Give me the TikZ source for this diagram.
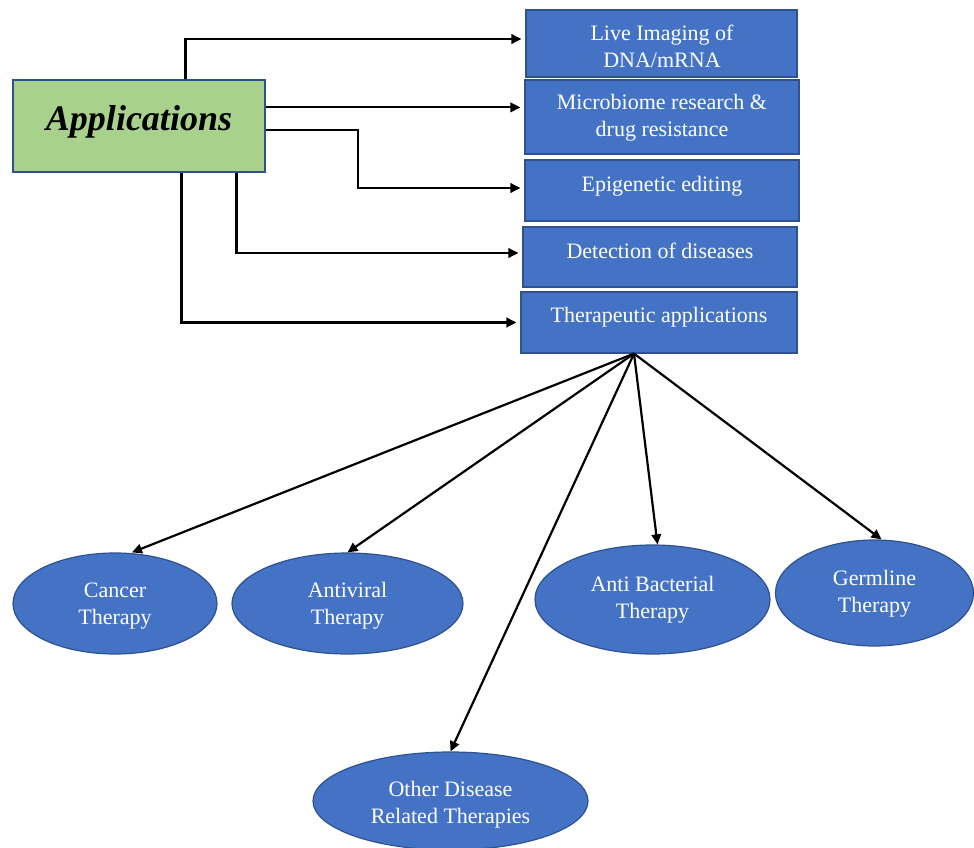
\documentclass[tikz,border=0pt]{standalone}
\usepackage{fontspec}
\setmainfont{Liberation Serif}
\usetikzlibrary{shapes.geometric,arrows.meta,calc}
\definecolor{boxblue}{HTML}{4472C4}
\definecolor{edgeblue}{HTML}{2F528F}
\definecolor{appgreen}{HTML}{A9D18E}
\begin{document}
\begin{tikzpicture}[x=1pt,y=-1pt,
  appbox/.style={draw=edgeblue, line width=1.2pt, fill=appgreen, inner sep=0pt},
  apptxt/.style={font=\fontsize{36}{40}\selectfont\bfseries\itshape, inner sep=0pt},
  bluebox/.style={draw=edgeblue, line width=1.2pt, fill=boxblue, inner sep=0pt},
  boxtxt/.style={text=white, font=\fontsize{22}{27}\selectfont, align=center, inner sep=0pt},
  oval/.style={ellipse, draw=edgeblue, line width=1.2pt, fill=boxblue, inner sep=0pt},
  arr/.style={line width=2.2pt, -{Triangle[length=10pt,width=9.5pt]}},
  arrb/.style={arr, shorten >=4pt},
]
\useasboundingbox (0,0) rectangle (974,848);

% main box
\node[appbox, minimum width=252, minimum height=92] (app) at (139,126) {};
\node[apptxt] (appt) at (139,122) {Applications};

% right boxes
\node[bluebox, minimum width=271, minimum height=67] (b1) at (661.5,43.5) {};
\node[boxtxt] (t1) at (662,46) {Live Imaging of\\DNA/mRNA};
\node[bluebox, minimum width=274, minimum height=74] (b2) at (662,117) {};
\node[boxtxt] (t2) at (662,117.5) {Microbiome research \&\\drug resistance};
\node[bluebox, minimum width=274, minimum height=61] (b3) at (662,190.5) {};
\node[boxtxt] (t3) at (662,186) {Epigenetic editing};
\node[bluebox, minimum width=274, minimum height=60] (b4) at (660,257) {};
\node[boxtxt] (t4) at (660,251) {Detection of diseases};
\node[bluebox, minimum width=276, minimum height=61] (b5) at (659,322.5) {};
\node[boxtxt] (t5) at (659,317) {Therapeutic applications};

% ellipses
\node[oval, minimum width=204, minimum height=101] (e1) at (115,603.5) {};
\node[boxtxt] (u1) at (115,606.5) {Cancer\\Therapy};
\node[oval, minimum width=231, minimum height=101] (e2) at (347.5,603.5) {};
\node[boxtxt] (u2) at (347.5,606) {Antiviral\\Therapy};
\node[oval, minimum width=235, minimum height=109] (e3) at (652.5,599.5) {};
\node[boxtxt] (u3) at (652.5,599.5) {Anti Bacterial\\Therapy};
\node[oval, minimum width=198, minimum height=106] (e4) at (874.5,593) {};
\node[boxtxt] (u4) at (874.5,594) {Germline\\Therapy};
\node[oval, minimum width=275, minimum height=98] (e5) at (450.5,801) {};
\node[boxtxt] (u5) at (450.5,805) {Other Disease\\Related Therapies};

% connectors from Applications
\coordinate (s1) at ($(app.north west)+(173,0)$);
\coordinate (s2) at ($(app.north east)+(0,28)$);
\coordinate (s3) at ($(app.north east)+(0,51)$);
\coordinate (s4) at ($(app.south west)+(224,0)$);
\coordinate (s5) at ($(app.south west)+(169,0)$);
\draw[arrb] (s1) |- ($(b1.west)+(0,-4.5)$);
\draw[arrb] (s2) -- (s2 -| b2.west);
\draw[arrb] (s3) -- ++(92,0) |- ($(b3.west)+(0,-2.5)$);
\draw[arrb] (s4) |- ($(b4.west)+(0,-4)$);
\draw[arrb] (s5) |- (b5.west);

% fan from Therapeutic applications
\coordinate (f) at ($(b5.south)+(-25,0)$);
\draw[arr] (f) -- ($(e1.north)+(17,0)$);
\draw[arr] (f) -- (e2.north);
\draw[arr] (f) -- ($(e3.north)+(5,0)$);
\draw[arr] (f) -- ($(e4.north)+(7,0)$);
\draw[arr] (f) -- (e5.north);
\end{tikzpicture}
\end{document}
